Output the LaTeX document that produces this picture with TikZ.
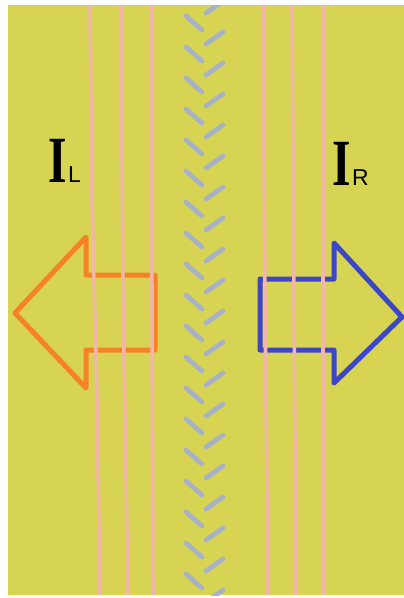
\documentclass[tikz,border=0pt]{standalone}
\usepackage{fontspec}
\setmainfont{Liberation Serif}
\newfontfamily\subfont{Liberation Sans}
\definecolor{bgyellow}{RGB}{214,212,82}
\definecolor{pinkline}{RGB}{242,182,170}
\definecolor{dashgray}{RGB}{168,178,198}
\definecolor{arroworange}{RGB}{246,130,40}
\definecolor{arrowblue}{RGB}{62,70,200}
\tikzset{
  pinkstyle/.style={pinkline, line width=3.6pt},
  dashstyle/.style={dashgray, line width=4.8pt, line cap=round},
  arrowline/.style={line width=5pt, line join=round, line cap=round},
  bigI/.style={anchor=base west, inner sep=0pt, xscale=0.72, font=\fontsize{66}{66}\selectfont\bfseries},
  subl/.style={anchor=base west, inner sep=0pt, font=\subfont\fontsize{23}{23}\selectfont}
}
\begin{document}
\begin{tikzpicture}[x=1pt,y=-1pt]
\useasboundingbox (0,0) rectangle (404,598);
\fill[white] (0,0) rectangle (404,598);
\fill[bgyellow] (8,5) rectangle (404,595);
\begin{scope}
\clip (8,5) rectangle (404,595);
% chevron dashes
\foreach \k in {-1,0,...,18}{
  \draw[dashstyle] (186,{16+31*\k}) -- (202,{30+31*\k});
  \draw[dashstyle] (206,{44+31*\k}) -- (223,{32+31*\k});
}
% orange arrow (left)
\draw[arrowline, arroworange] (155,275) -- (86,275) -- (86,237) -- (15,313) -- (86,388) -- (86,350) -- (155,350) -- cycle;
% blue arrow (right)
\draw[arrowline, arrowblue] (260,279) -- (334,279) -- (334,243) -- (402,317) -- (334,383) -- (334,350) -- (260,350) -- cycle;
% pink lines
\draw[pinkstyle] (90,5) -- (92,200) -- (97,400) -- (100,595);
\draw[pinkstyle] (121,5) -- (123,300) -- (128,595);
\draw[pinkstyle] (151,5) -- (152,300) -- (153,595);
\draw[pinkstyle] (263,5) -- (265,300) -- (268,595);
\draw[pinkstyle] (292,5) -- (294,300) -- (296,595);
\draw[pinkstyle] (323,5) -- (323,300) -- (323,595);
\end{scope}
% labels
\node[bigI] (il) at (48,182) {I};
\node[subl] (ilsub) at (68,182) {L};
\node[bigI] (ir) at (332,185) {I};
\node[subl] (irsub) at (352,185) {R};
\end{tikzpicture}
\end{document}
